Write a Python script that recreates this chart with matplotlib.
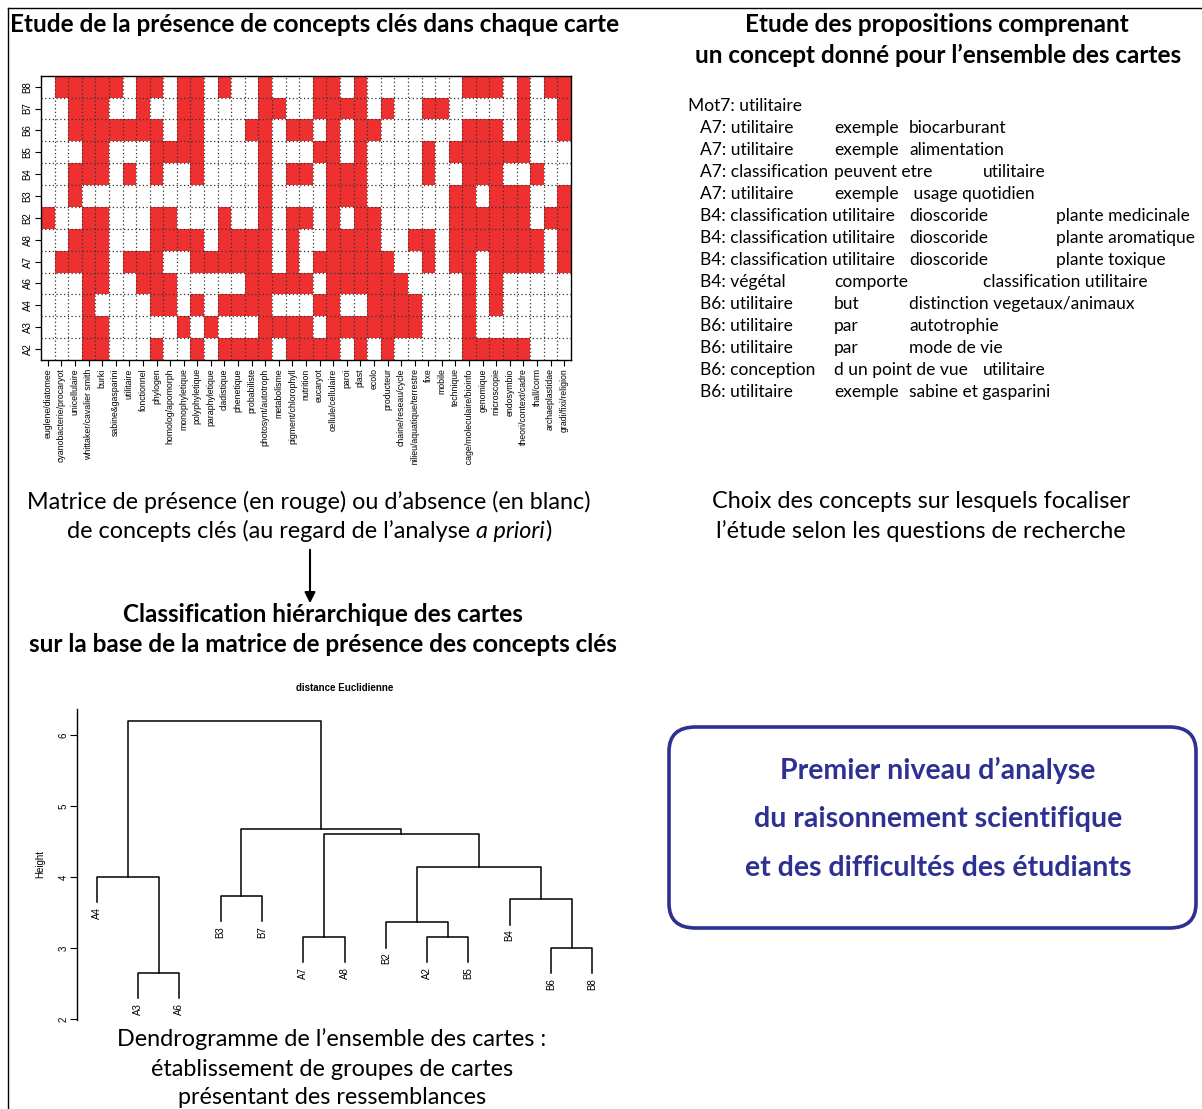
import numpy as np
import matplotlib
matplotlib.use("Agg")
import matplotlib.pyplot as plt
from matplotlib.colors import ListedColormap
from matplotlib.patches import FancyBboxPatch, FancyArrowPatch
from matplotlib.lines import Line2D
from matplotlib.transforms import Bbox, TransformedBbox

W, H = 1202, 1109
plt.rcParams['font.family'] = ['Lato', 'DejaVu Sans']
RFONT = ['Liberation Sans', 'DejaVu Sans']

# ---- data: presence matrix (rows top -> bottom) ----
cartes = ["B8", "B7", "B6", "B5", "B4", "B3", "B2", "A8", "A7", "A6", "A4", "A3", "A2"]
concepts = ["euglene/diatomee", "cyanobacterie/procaryot", "unicellulaire",
            "whittaker/cavalier smith", "burki", "sabine&gasparini", "utilitaire",
            "fonctionnel", "phylogen", "homolog/apomorph", "monophyletique",
            "polyphyletique", "paraphyletique", "cladistique", "phenetique",
            "probabiliste", "photosynt/autotroph", "metabolisme", "pigment/chlorophyll",
            "nutrition", "eucaryot", "cellule/cellulaire", "paroi", "plast", "ecolo",
            "producteur", "chaine/reseau/cycle", "milieu/aquatique/terrestre", "fixe",
            "mobile", "technique", "sequencage/moleculaire/bioinfo", "genomique",
            "microscopie", "endosymbio", "theori/context/cadre", "thall/corm",
            "archaeplastidae", "gradi/fixi/religion"]
presence = [
    "0111110110 1101001000 1101000000 011101011",  # B8
    "0011100100 1100001100 1111010011 000001001",  # B7
    "0011111110 1100011011 0101100000 011101001",  # B6
    "0001100011 1100001000 1101000010 111111000",  # B5
    "0011101010 0100001011 0111000010 011100100",  # B4
    "0010000000 0000001000 0111000000 110111001",  # B3
    "1001100011 0001001011 0101100000 111111011",  # B2
    "0011100011 1101111010 0111100110 111111101",  # A8
    "0111101110 0111111010 1111110010 110111101",  # A7
    "0001100111 0000011111 0111111000 010100000",  # A6
    "0001000011 0101111000 1100111100 010100000",  # A4
    "0001100000 1010001111 0111111100 010000000",  # A3
    "0001100010 0101111011 1101010000 011111000",  # A2
]

# ---- data: dendrogram (hclust style merges) ----
leaf_order = ["A4", "A3", "A6", "B3", "B7", "A7", "A8", "B2", "A2", "B5", "B4", "B6", "B8"]
merge_a = ["A3", "A4", "B3", "A7", "A2", "B2", "B6", "B4", 6, 4, 3, 2]
merge_b = ["A6", 1, "B7", "A8", "B5", 5, "B8", 7, 8, 9, 10, 11]
merge_h = [2.645, 4.00, 3.73, 3.155, 3.155, 3.36, 3.00, 3.686, 4.137, 4.605, 4.676, 6.20]

# ---- data: propositions ----
prop_head = "Mot7: utilitaire"
propositions = [
    ["A7: utilitaire", "exemple", "biocarburant", "", ""],
    ["A7: utilitaire", "exemple", "alimentation", "", ""],
    ["A7: classification", "peuvent etre", "", "utilitaire", ""],
    ["A7: utilitaire", "exemple", " usage quotidien", "", ""],
    ["B4: classification utilitaire", "", "dioscoride", "", "plante medicinale"],
    ["B4: classification utilitaire", "", "dioscoride", "", "plante aromatique"],
    ["B4: classification utilitaire", "", "dioscoride", "", "plante toxique"],
    ["B4: végétal", "comporte", "", "classification utilitaire", ""],
    ["B6: utilitaire", "but", "distinction vegetaux/animaux", "", ""],
    ["B6: utilitaire", "par", "autotrophie", "", ""],
    ["B6: utilitaire", "par", "mode de vie", "", ""],
    ["B6: conception", "d un point de vue", "", "utilitaire", ""],
    ["B6: utilitaire", "exemple", "sabine et gasparini", "", ""],
]


def fx(x):
    return x / W


def fy(y):
    return 1 - y / H


fig = plt.figure(figsize=(W / 100, H / 100), dpi=100)

# outer frame
fig.add_artist(Line2D([fx(8), fx(8)], [0, fy(8)], color='black', lw=1))
fig.add_artist(Line2D([fx(8), 1], [fy(8), fy(8)], color='black', lw=1))

# ---- heatmap ----
mat = np.array([[int(c) for c in r.replace(" ", "")] for r in presence])
ax = fig.add_axes([fx(41), fy(360), fx(571) - fx(41), fy(75.7) - fy(360)])
red = '#ee3030'
ax.pcolormesh(np.arange(len(concepts) + 1), np.arange(len(cartes) + 1), mat[::-1],
              cmap=ListedColormap(['white', red]), vmin=0, vmax=1)
ax.set_xlim(0, len(concepts))
ax.set_ylim(0, len(cartes))
for k in range(1, len(concepts)):
    ax.axvline(k, color='#333333', lw=0.9, ls=(0, (1, 2)))
for k in range(1, len(cartes)):
    ax.axhline(k, color='#333333', lw=0.9, ls=(0, (1, 2)))
ax.set_xticks(np.arange(len(concepts)) + 0.5)
ax.set_xticklabels(concepts, rotation=90, fontsize=6.3, family=RFONT, va='top')
ax.set_yticks(np.arange(len(cartes)) + 0.5)
ax.set_yticklabels(cartes[::-1], rotation=90, fontsize=7, family=RFONT, va='center')
ax.tick_params(length=4, width=0.8, pad=2)
for s in ax.spines.values():
    s.set_linewidth(1.0)
clipbox = TransformedBbox(Bbox([[0, fy(465)], [1, 1]]), fig.transFigure)
for t in ax.get_xticklabels():
    t.set_clip_box(clipbox)
    t.set_clip_on(True)

# ---- dendrogram ----
ax2 = fig.add_axes([fx(77), fy(1020), fx(612) - fx(77), fy(709) - fy(1020)])
xpos = {name: i + 1 for i, name in enumerate(leaf_order)}
hang = 0.1 * (max(merge_h) - min(merge_h))
nodes = {}
for i, (a, b, h) in enumerate(zip(merge_a, merge_b, merge_h)):
    pts = []
    for c in (a, b):
        if isinstance(c, str):
            x0, y0 = xpos[c], h - hang
            ax2.text(x0, y0 - 0.07, c, rotation=90, ha='center', va='top',
                     fontsize=7, family=RFONT)
        else:
            x0, y0 = nodes[c]
        pts.append((x0, y0))
    (xa, ya), (xb, yb) = pts
    ax2.plot([xa, xa, xb, xb], [ya, h, h, yb], color='black', lw=1.1)
    nodes[i + 1] = ((xa + xb) / 2, h)
ax2.set_xlim(0.52, len(leaf_order) + 0.48)
ax2.set_ylim(1.986, 6.366)
for s in ['top', 'right', 'bottom']:
    ax2.spines[s].set_visible(False)
ax2.spines['left'].set_linewidth(1.0)
ax2.set_xticks([])
ax2.set_yticks([2, 3, 4, 5, 6])
ax2.set_yticklabels(['2', '3', '4', '5', '6'], rotation=90, fontsize=7, family=RFONT, va='center')
ax2.tick_params(axis='y', length=5, width=0.8, pad=1)
ax2.set_ylabel("Height", fontsize=7, family=RFONT, labelpad=10)
fig.text(fx(345), fy(688), "distance Euclidienne", ha='center', va='center',
         fontsize=7, fontweight='bold', family=RFONT)

# ---- texts ----
TS = 17.5
CS = 16.8
fig.text(fx(315), fy(25), "Etude de la présence de concepts clés dans chaque carte",
         ha='center', va='center', fontsize=TS, fontweight='bold')
fig.text(fx(937), fy(25), "Etude des propositions comprenant", ha='center', va='center',
         fontsize=TS, fontweight='bold')
fig.text(fx(938), fy(55), "un concept donné pour l\u2019ensemble des cartes", ha='center',
         va='center', fontsize=TS, fontweight='bold')

fig.text(fx(688), fy(106), prop_head, ha='left', va='center', fontsize=12.5)
col_x = [700, 834, 909, 983, 1056]
for i, line in enumerate(propositions):
    y = 128 + 22.04 * i
    for x, s in zip(col_x, line):
        if s:
            fig.text(fx(x), fy(y), s, ha='left', va='center', fontsize=12.5)

fig.text(fx(309), fy(502), "Matrice de présence (en rouge) ou d\u2019absence (en blanc)",
         ha='center', va='center', fontsize=CS)
# second caption line with italic part, centred as a whole
renderer = fig.canvas.get_renderer()
parts = [("de concepts clés (au regard de l\u2019analyse ", 'normal'),
         ("a priori", 'italic'), (")", 'normal')]
arts = [fig.text(0, fy(531), s, ha='left', va='center', fontsize=CS, style=st)
        for s, st in parts]
widths = [a.get_window_extent(renderer).width for a in arts]
x = 309 - sum(widths) / 2
for a, w in zip(arts, widths):
    a.set_x(fx(x))
    x += w

fig.text(fx(921), fy(502), "Choix des concepts sur lesquels focaliser",
         ha='center', va='center', fontsize=CS)
fig.text(fx(921), fy(531), "l\u2019étude selon les questions de recherche",
         ha='center', va='center', fontsize=CS)

fig.add_artist(FancyArrowPatch((fx(310), fy(547)), (fx(310), fy(606)),
                               transform=fig.transFigure, arrowstyle='-|>',
                               mutation_scale=16, color='black', lw=1.5))

fig.text(fx(323), fy(615), "Classification hiérarchique des cartes",
         ha='center', va='center', fontsize=TS, fontweight='bold')
fig.text(fx(323), fy(645), "sur la base de la matrice de présence des concepts clés",
         ha='center', va='center', fontsize=TS, fontweight='bold')

fig.text(fx(332), fy(1039), "Dendrogramme de l\u2019ensemble des cartes :",
         ha='center', va='center', fontsize=CS)
fig.text(fx(332), fy(1069), "établissement de groupes de cartes",
         ha='center', va='center', fontsize=CS)
fig.text(fx(332), fy(1098), "présentant des ressemblances",
         ha='center', va='center', fontsize=CS)

blue = '#2e3192'
box = FancyBboxPatch((fx(669), fy(928)), fx(1196) - fx(669), fy(727) - fy(928),
                     boxstyle="round,pad=0,rounding_size=0.022",
                     transform=fig.transFigure, fc='white', ec=blue, lw=2.6)
fig.add_artist(box)
for y, s in zip([770, 819, 868], ["Premier niveau d\u2019analyse",
                                  "du raisonnement scientifique",
                                  "et des difficultés des étudiants"]):
    fig.text(fx(938), fy(y), s, ha='center', va='center', fontsize=20.5,
             fontweight='bold', color=blue)

fig.savefig("out.png", dpi=100)
